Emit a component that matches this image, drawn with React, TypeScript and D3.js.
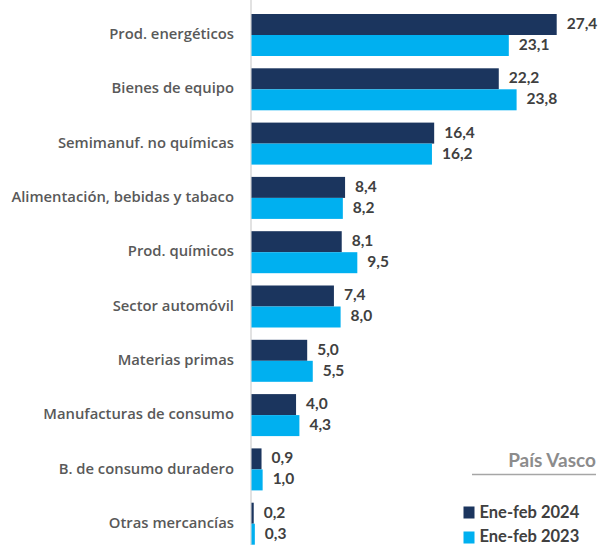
import React from "react";
import * as d3 from "d3";

const categories = [
  "Prod. energéticos",
  "Bienes de equipo",
  "Semimanuf. no químicas",
  "Alimentación, bebidas y tabaco",
  "Prod. químicos",
  "Sector automóvil",
  "Materias primas",
  "Manufacturas de consumo",
  "B. de consumo duradero",
  "Otras mercancías",
];
const values2024 = [27.4, 22.2, 16.4, 8.4, 8.1, 7.4, 5.0, 4.0, 0.9, 0.2];
const values2023 = [23.1, 23.8, 16.2, 8.2, 9.5, 8.0, 5.5, 4.3, 1.0, 0.3];
const seriesNames = ["Ene-feb 2024", "Ene-feb 2023"];
const seriesColors = ["#1b355e", "#00b0f0"];
const regionTitle = "País Vasco";

const W = 599;
const H = 545;
const FONT = "Lato, 'Open Sans', sans-serif";

export default function App() {
  const x0 = 251.5;
  const x = d3.scaleLinear().domain([0, 27.4]).range([x0, 556.7]);
  const step = 54.3;
  const bh = 21;
  const fmt = (v: number) => v.toFixed(1).replace(".", ",");
  const series = [values2024, values2023];
  const y = d3
    .scalePoint<string>()
    .domain(categories)
    .range([14, 14 + step * (categories.length - 1)]);

  return (
    <svg
      width={W}
      height={H}
      style={{ position: "absolute", left: 0, top: 0, background: "#fff" }}
      fontFamily={FONT}
    >
      <line x1={x0 - 0.5} x2={x0 - 0.5} y1={0} y2={H} stroke="#d9d9d9" strokeWidth={1.5} />
      {categories.map((c, i) => {
        const top = y(c) as number;
        return (
          <g key={c}>
            <text
              x={234}
              y={top + bh - 1}
              dy="0.35em"
              textAnchor="end"
              fontSize={14.8}
              fontWeight={600}
              fontFamily="'Open Sans', sans-serif"
              fill="#595959"
            >
              {c}
            </text>
            {series.map((vals, s) => (
              <g key={s}>
                <rect
                  x={x(0)}
                  y={top + s * bh}
                  width={x(vals[i]) - x(0)}
                  height={bh}
                  fill={seriesColors[s]}
                />
                <text
                  x={x(vals[i]) + 10}
                  y={top + s * bh + bh / 2 - 1}
                  dy="0.35em"
                  fontSize={15.5}
                  fontWeight={700}
                  fill="#404040"
                >
                  {fmt(vals[i])}
                </text>
              </g>
            ))}
          </g>
        );
      })}
      <text x={596} y={460} dy="0.35em" textAnchor="end" fontSize={19} fontWeight={700} fill="#8c8c8c">
        {regionTitle}
      </text>
      <line x1={472} x2={596} y1={474.5} y2={474.5} stroke="#a6a6a6" strokeWidth={1.5} />
      {seriesNames.map((n, s) => (
        <g key={n}>
          <rect x={463.5} y={506.5 + s * 25} width={11} height={12} fill={seriesColors[s]} />
          <text x={479.5} y={512 + s * 24.5} dy="0.35em" fontSize={16.5} fontWeight={700} fill="#404040">
            {n}
          </text>
        </g>
      ))}
    </svg>
  );
}
